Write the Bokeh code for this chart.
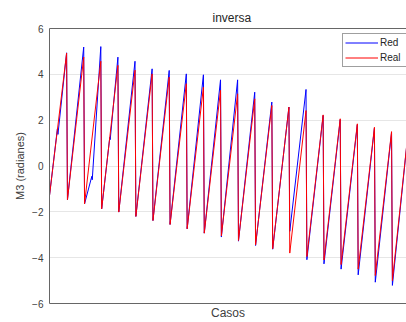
from bokeh.plotting import figure
from bokeh.models import Range1d, FixedTicker, Legend, LegendItem, LinearAxis, Title
from bokeh.embed import file_html
from bokeh.resources import INLINE

# ---- data ----
period = 20          # cases per cycle
start_value = -1.29  # value at the first case
red_peaks = [4.92, 4.75, 4.57, 4.39, 4.18, 4.02, 3.88, 3.59, 3.44, 3.30,
             3.15, 2.93, 2.64, 2.57, 2.42, 2.23, 2.06, 1.84, 1.69, 1.50, 1.70]
blue_peaks = [4.94, 5.19, 5.21, 4.75, 4.57, 4.24, 4.17, 4.02, 3.98, 3.76,
              3.76, 3.22, 2.79, 2.57, 3.34, 2.20, 2.02, 1.80, 1.65, 1.45, 1.70]
red_troughs = [-1.47, -1.65, -1.87, -2.01, -2.20, -2.38, -2.55, -2.74, -2.93, -3.05,
               -3.25, -3.44, -3.61, -3.80, -3.95, -4.10, -4.30, -4.50, -4.78, -5.00]
blue_troughs = [-1.47, -1.65, -1.87, -2.01, -2.20, -2.38, -2.55, -2.74, -2.93, -3.10,
                -3.28, -3.47, -3.63, -2.85, -4.09, -4.27, -4.50, -4.75, -5.07, -5.21]
blue_kinks_x = [9.2, 9.9, 70.5, 71.0, 49.5, 50.0]
blue_kinks_y = [1.62, 1.38, 1.25, 1.15, -0.45, -0.60]
y_ticks = [-6, -4, -2, 0, 2, 4, 6]


def zigzag(peaks, troughs):
    xs, ys = [0], [start_value]
    for k, pk in enumerate(peaks):
        xs.append(period * (k + 1))
        ys.append(pk)
        if k < len(troughs):
            xs.append(period * (k + 1) + 1)
            ys.append(troughs[k])
    return xs, ys


rx, ry = zigzag(red_peaks, red_troughs)
bx, by = zigzag(blue_peaks, blue_troughs)
pts = sorted(list(zip(bx, by)) + list(zip(blue_kinks_x, blue_kinks_y)))
bx = [p[0] for p in pts]
by = [p[1] for p in pts]

FONT = "Liberation Sans"

p = figure(width=406, height=322, output_backend="svg", toolbar_location=None,
           x_range=Range1d(0, 417.5), y_range=Range1d(-6, 6),
           min_border_left=49, min_border_right=0, min_border_top=28,
           min_border_bottom=19, background_fill_color="white",
           border_fill_color="white", outline_line_color=None)

p.title = Title(text="inversa", align="left", offset=163,
                text_font=FONT, text_font_size="12px", text_font_style="normal",
                text_color="#262626", standoff=8)

blue = p.line(bx, by, line_color="#0000ff", line_width=1)
red = p.line(rx, ry, line_color="#ff0000", line_width=1)

# axes
p.yaxis.ticker = FixedTicker(ticks=y_ticks)
p.yaxis.major_label_text_font = FONT
p.yaxis.major_label_text_font_size = "10px"
p.yaxis.major_label_text_color = "#404040"
p.yaxis.major_label_standoff = 6
p.yaxis.major_tick_in = 0
p.yaxis.major_tick_out = 0
p.yaxis.minor_tick_line_color = None
p.yaxis.axis_line_color = "#666666"
p.yaxis.axis_label = "M3 (radianes)"
p.yaxis.axis_label_text_font = FONT
p.yaxis.axis_label_text_font_size = "11px"
p.yaxis.axis_label_text_font_style = "normal"
p.yaxis.axis_label_text_color = "#404040"
p.yaxis.axis_label_standoff = 3

p.xaxis.ticker = FixedTicker(ticks=[])
p.xaxis.major_tick_in = 0
p.xaxis.major_tick_out = 0
p.xaxis.minor_tick_line_color = None
p.xaxis.axis_line_color = "#666666"
p.xaxis.axis_label = "Casos"
p.xaxis.axis_label_text_font = FONT
p.xaxis.axis_label_text_font_size = "12px"
p.xaxis.axis_label_text_font_style = "normal"
p.xaxis.axis_label_text_color = "#404040"
p.xaxis.axis_label_standoff = 2

top_axis = LinearAxis(ticker=FixedTicker(ticks=[]), axis_line_color="#666666",
                      major_tick_in=0, major_tick_out=0, minor_tick_line_color=None)
p.add_layout(top_axis, "above")

p.xgrid.grid_line_color = None
p.ygrid.ticker = FixedTicker(ticks=y_ticks)
p.ygrid.grid_line_color = "#e6e6e6"
p.ygrid.grid_line_width = 1

legend = Legend(items=[LegendItem(label="Red", renderers=[blue]),
                       LegendItem(label="Real", renderers=[red])],
                location=(293, 236), padding=2, spacing=2, margin=0,
                glyph_width=33, glyph_height=13, label_height=13,
                label_width=70, label_standoff=2,
                label_text_font=FONT, label_text_font_size="10px",
                label_text_color="#262626",
                border_line_color="#404040", border_line_width=1,
                background_fill_color="white", background_fill_alpha=1)
p.add_layout(legend, "center")

open("out.html", "w").write(file_html(p, INLINE))
